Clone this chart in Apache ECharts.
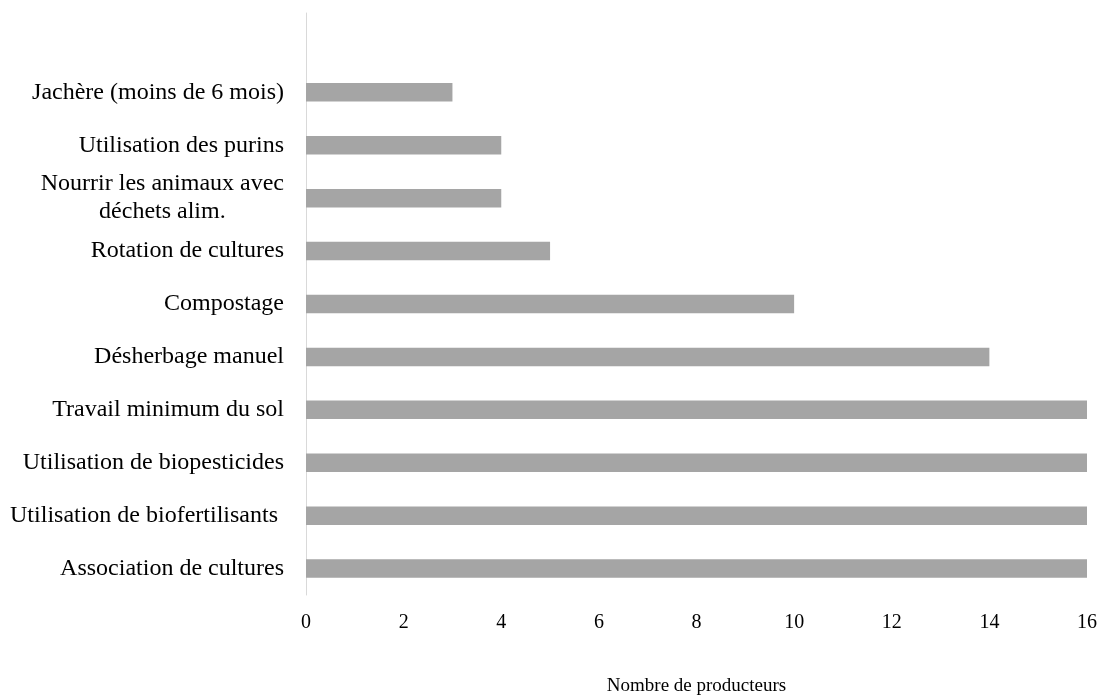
<!DOCTYPE html>
<html>
<head>
<meta charset="utf-8">
<script src="https://cdn.jsdelivr.net/npm/echarts@6/dist/echarts.min.js"></script>
<style>
html,body{margin:0;padding:0;background:#fff;}
#chart{width:1100px;height:696px;}
</style>
</head>
<body>
<div id="chart"></div>
<script>
// Categories listed bottom to top
var categories = [
  'Association de cultures',
  'Utilisation de biofertilisants ',
  'Utilisation de biopesticides',
  'Travail minimum du sol',
  'Désherbage manuel',
  'Compostage',
  'Rotation de cultures',
  'Nourrir les animaux avec\ndéchets alim.',
  'Utilisation des purins',
  'Jachère (moins de 6 mois)'
];
var values = [16, 16, 16, 16, 14, 10, 5, 4, 4, 3];
var xTicks = [0, 2, 4, 6, 8, 10, 12, 14, 16];
var xAxisTitle = 'Nombre de producteurs';

var font = '"Liberation Serif", "Times New Roman", serif';
// one empty slot at the top, as in the reference
var yCats = categories.concat(['']);
var yVals = values.concat([null]);

var chart = echarts.init(document.getElementById('chart'), null, {renderer: 'canvas'});
chart.setOption({
  animation: false,
  backgroundColor: '#ffffff',
  grid: {left: 306, right: 13, top: 13, bottom: 101, containLabel: false, outerBoundsMode: 'none'},
  xAxis: {
    type: 'value',
    min: xTicks[0],
    max: xTicks[xTicks.length - 1],
    interval: xTicks[1] - xTicks[0],
    axisLine: {show: false},
    axisTick: {show: false},
    splitLine: {show: false},
    axisLabel: {
      color: '#000',
      fontFamily: font,
      fontSize: 20,
      margin: 18
    },
    name: xAxisTitle,
    nameLocation: 'middle',
    nameGap: 82,
    nameTextStyle: {color: '#000', fontFamily: font, fontSize: 19}
  },
  yAxis: {
    type: 'category',
    data: yCats,
    axisLine: {show: true, lineStyle: {color: '#d9d9d9', width: 1}},
    axisTick: {show: false},
    splitLine: {show: false},
    axisLabel: {
      color: '#000',
      fontFamily: font,
      fontSize: 24,
      lineHeight: 28,
      margin: 22,
      formatter: function (v) {
        if (!v) return '';
        return v.split('\n').map(function (s) { return '{c|' + s + '}'; }).join('\n');
      },
      rich: {
        c: {color: '#000', fontFamily: font, fontSize: 24, lineHeight: 28, align: 'center'}
      }
    }
  },
  series: [{
    type: 'bar',
    data: yVals,
    barWidth: '35%',
    itemStyle: {color: '#a5a5a5'}
  }]
});
</script>
</body>
</html>
